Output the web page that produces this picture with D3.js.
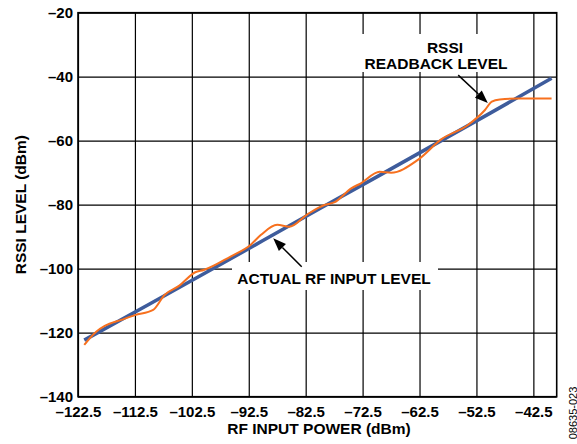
<!DOCTYPE html>
<html><head><meta charset="utf-8">
<script src="https://cdn.jsdelivr.net/npm/d3@7"></script>
<style>
html,body{margin:0;padding:0;background:#fff;}
svg text{font-family:"Liberation Sans",Arial,Helvetica,sans-serif;}
</style></head>
<body><svg id="c" width="577" height="444"></svg>
<script>
const xTicks = [-122.5, -112.5, -102.5, -92.5, -82.5, -72.5, -62.5, -52.5, -42.5];
const yTicks = [-140, -120, -100, -80, -60, -40, -20];

// Actual RF input level (blue)
const actualX = [-121.4, -110, -100, -90, -80, -70, -60, -50, -39.3];
const actualY = [-122.3, -111.1, -101.2, -91.2, -81.2, -71.3, -61.3, -51.3, -40.5];

// RSSI readback level (orange)
const rssiX = [-121.4, -119.3, -117.8, -114.9, -112.5, -109.3, -107.3, -104.7, -101.9, -100.4, -95.7, -92.2, -90.4, -87.5, -85.4, -82.2, -79.2, -77.5, -74.5, -72.8, -69.5, -67.5, -62.8, -58.7, -54.0, -51.0, -49.8, -48.4, -45.1, -39.3];
const rssiY = [-123.8, -119.7, -117.9, -116.0, -114.5, -112.9, -108.2, -105.3, -101.1, -100.4, -96.2, -92.6, -89.5, -86.3, -86.9, -83.0, -80.1, -79.3, -74.9, -73.3, -69.7, -70.0, -66.0, -59.6, -55.1, -50.4, -47.8, -47.1, -46.8, -46.8];

const svg = d3.select("#c");
const L = 78, R = 556.7, T = 12.7, B = 396.7;
const x = d3.scaleLinear().domain([-122.5, -38.4]).range([L, R]);
const y = d3.scaleLinear().domain([-140, -20]).range([B, T]);
const fmt = d => String(d).replace("-", "\u2013");

// grid
const gx = svg.append("g").attr("transform", `translate(0,${B})`)
  .call(d3.axisBottom(x).tickValues(xTicks).tickSize(-(B - T)).tickFormat(fmt).tickPadding(9.5));
const gy = svg.append("g").attr("transform", `translate(${L},0)`)
  .call(d3.axisLeft(y).tickValues(yTicks).tickSize(-(R - L)).tickFormat(fmt).tickPadding(5));
[gx, gy].forEach(g => {
  g.select(".domain").remove();
  g.selectAll("line").attr("stroke", "#000").attr("stroke-width", 1.2);
  g.selectAll("text").attr("fill", "#000").attr("font-size", 15).attr("font-weight", "bold");
});

// label background boxes
svg.append("rect").attr("x", 232).attr("y", 262).attr("width", 206).attr("height", 28).attr("fill", "#fff");
svg.append("rect").attr("x", 355).attr("y", 34).attr("width", 162).attr("height", 38).attr("fill", "#fff");

// frame
svg.append("rect").attr("x", L).attr("y", T).attr("width", R - L).attr("height", B - T)
  .attr("fill", "none").attr("stroke", "#000").attr("stroke-width", 1.6);

// lines
const line = d3.line().x(d => x(d[0])).y(d => y(d[1]));
svg.append("path").datum(actualX.map((v, i) => [v, actualY[i]]))
  .attr("d", line).attr("fill", "none").attr("stroke", "#3e5c9c").attr("stroke-width", 3.6);
svg.append("path").datum(rssiX.map((v, i) => [v, rssiY[i]]))
  .attr("d", line.curve(d3.curveMonotoneX)).attr("fill", "none").attr("stroke", "#f7701e").attr("stroke-width", 2)
  .attr("stroke-linejoin", "round");

// arrows
function arrow(x0, y0, x1, y1) {
  const X0 = x(x0), Y0 = y(y0), X1 = x(x1), Y1 = y(y1);
  const a = Math.atan2(Y1 - Y0, X1 - X0), len = 13, w = 5;
  const bx = X1 - len * Math.cos(a), by = Y1 - len * Math.sin(a);
  svg.append("line").attr("x1", X0).attr("y1", Y0).attr("x2", bx).attr("y2", by)
    .attr("stroke", "#000").attr("stroke-width", 1.5);
  svg.append("path").attr("d", `M${X1},${Y1}L${bx + w * Math.sin(a)},${by - w * Math.cos(a)}L${bx - w * Math.sin(a)},${by + w * Math.cos(a)}Z`)
    .attr("fill", "#000");
}
arrow(-83.2, -99.4, -88.2, -90.5);
arrow(-55.7, -39.5, -50.5, -48.2);

// annotations
const ann = svg.append("g").attr("font-weight", "bold").attr("font-size", 15.5).attr("text-anchor", "middle").attr("fill", "#000");
ann.append("text").attr("x", 334).attr("y", 283.5).text("ACTUAL RF INPUT LEVEL");
ann.append("text").attr("x", 445).attr("y", 53).text("RSSI");
ann.append("text").attr("x", 436).attr("y", 68.5).text("READBACK LEVEL");

// axis titles
svg.append("text").attr("x", 319).attr("y", 434).attr("text-anchor", "middle")
  .attr("font-weight", "bold").attr("font-size", 15.5).text("RF INPUT POWER (dBm)");
svg.append("text").attr("transform", `translate(26,${(T + B) / 2}) rotate(-90)`).attr("text-anchor", "middle")
  .attr("font-weight", "bold").attr("font-size", 15.5).text("RSSI LEVEL (dBm)");
svg.append("text").attr("transform", `translate(576.5,413) rotate(-90)`).attr("text-anchor", "middle")
  .attr("font-size", 11).text("08635-023");
</script></body></html>
